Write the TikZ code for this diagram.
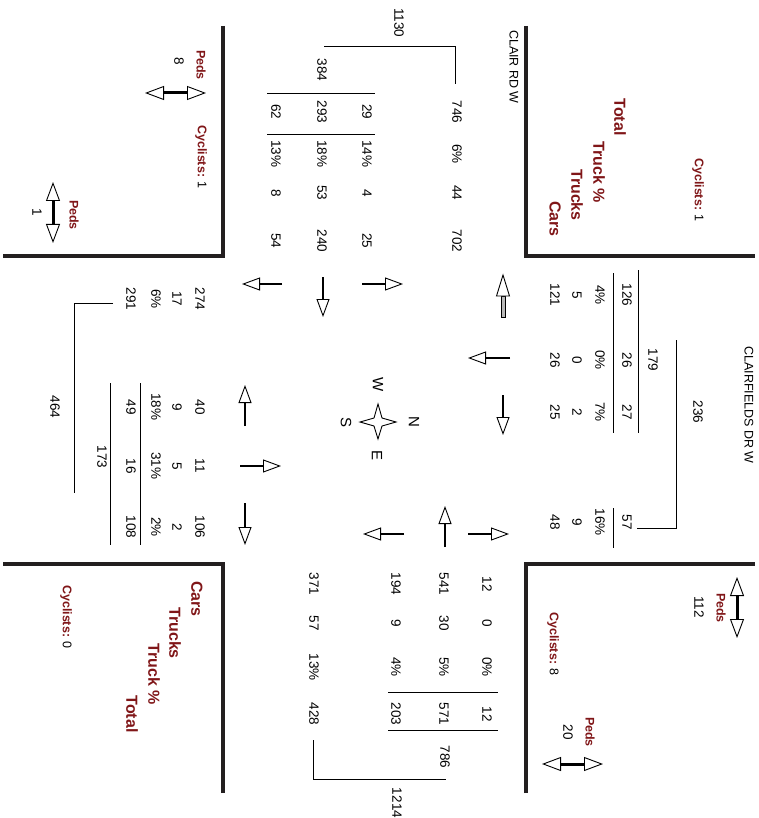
\documentclass[tikz,border=0pt]{standalone}
\usepackage{fontspec}
\setmainfont{Liberation Sans}
\usetikzlibrary{arrows.meta}
\definecolor{pedred}{RGB}{128,22,24}
\definecolor{curbgray}{RGB}{35,31,32}

\begin{document}
\begin{tikzpicture}[
    x=1pt, y=-1pt,
    num/.style={rotate=-90, inner sep=0pt, font=\fontsize{13.5}{15}\selectfont},
    street/.style={rotate=-90, inner sep=0pt, font=\fontsize{12.5}{15}\selectfont},
    head/.style={rotate=-90, inner sep=0pt, text=pedred, font=\fontsize{16}{18}\selectfont\bfseries},
    lbl/.style={rotate=-90, inner sep=0pt, text=pedred, font=\fontsize{12.5}{15}\selectfont\bfseries},
    curb/.style={draw=curbgray, line width=4pt, line join=miter},
    rule/.style={draw=black, line width=0.8pt},
    move/.style={line width=2pt, -{Triangle[length=18pt, width=13pt, fill=white, line width'=0.9pt]}},
    peds/.style={line width=3pt, {Triangle[length=19pt, width=14pt, fill=white, line width'=0.9pt]}-{Triangle[length=19pt, width=14pt, fill=white, line width'=0.9pt]}}
]
\useasboundingbox (0,0) rectangle (758,818);

% ====================
% Cordoli
% ====================
\draw[curb] (223,26) -- (223,256) -- (3,256);
\draw[curb] (526,26) -- (526,256) -- (755,256);
\draw[curb] (526,793) -- (526,564) -- (755,564);
\draw[curb] (223,793) -- (223,564) -- (3,564);

% Nomi delle strade
\node[street] (ST_W) at (514,67) {CLAIR RD W};
\node[street] (ST_N) at (749,405) {CLAIRFIELDS DR W};

% ====================
% Ramo W (alto)
% ====================
\node[num] (W_TOT) at (399,23) {1130};
\node[num] (W_IN) at (322,70) {384};
\node[num] (W_11) at (457,112) {746}; \node[num] (W_12) at (457,154) {6\%};
\node[num] (W_13) at (457,193) {44};  \node[num] (W_14) at (457,241) {702};
\node[num] (W_21) at (367,112) {29};  \node[num] (W_22) at (367,154) {14\%};
\node[num] (W_23) at (367,193) {4};   \node[num] (W_24) at (367,241) {25};
\node[num] (W_31) at (322,112) {293}; \node[num] (W_32) at (322,154) {18\%};
\node[num] (W_33) at (322,193) {53};  \node[num] (W_34) at (322,241) {240};
\node[num] (W_41) at (276,112) {62};  \node[num] (W_42) at (276,154) {13\%};
\node[num] (W_43) at (276,193) {8};   \node[num] (W_44) at (276,241) {54};
\draw[rule] (267,93) -- (375,93); \draw[rule] (267,134) -- (375,134);
\coordinate (P_W_A) at (324,46); \coordinate (P_W_B) at (455,46); \coordinate (P_W_C) at (455,84);
\draw[rule] (P_W_A) -- (P_W_B) -- (P_W_C);

% ====================
% Ramo N (destra)
% ====================
\node[num] (N_TOT) at (698,412) {236};
\node[num] (N_IN) at (653,360) {179};
\node[num] (N_11) at (627,295) {126}; \node[num] (N_12) at (600,295) {4\%};
\node[num] (N_13) at (577,295) {5};   \node[num] (N_14) at (555,295) {121};
\node[num] (N_21) at (627,360) {26};  \node[num] (N_22) at (600,360) {0\%};
\node[num] (N_23) at (577,360) {0};   \node[num] (N_24) at (555,360) {26};
\node[num] (N_31) at (627,412) {27};  \node[num] (N_32) at (600,412) {7\%};
\node[num] (N_33) at (577,412) {2};   \node[num] (N_34) at (555,412) {25};
\node[num] (N_41) at (627,522) {57};  \node[num] (N_42) at (600,522) {16\%};
\node[num] (N_43) at (577,522) {9};   \node[num] (N_44) at (555,522) {48};
\draw[rule] (638,270) -- (638,433); \draw[rule] (613,273) -- (613,433);
\draw[rule] (613,508) -- (613,548);
\coordinate (P_N_A) at (676,340); \coordinate (P_N_B) at (676,528); \coordinate (P_N_C) at (637,528);
\draw[rule] (P_N_A) -- (P_N_B) -- (P_N_C);

% ====================
% Ramo E (basso)
% ====================
\node[num] (E_TOT) at (397,803) {1214};
\node[num] (E_IN) at (445,757) {786};
\node[num] (E_11) at (487,584) {12};  \node[num] (E_12) at (487,623) {0};
\node[num] (E_13) at (487,667) {0\%}; \node[num] (E_14) at (487,714) {12};
\node[num] (E_21) at (444,584) {541}; \node[num] (E_22) at (444,623) {30};
\node[num] (E_23) at (444,667) {5\%}; \node[num] (E_24) at (444,714) {571};
\node[num] (E_31) at (396,584) {194}; \node[num] (E_32) at (396,623) {9};
\node[num] (E_33) at (396,667) {4\%}; \node[num] (E_34) at (396,714) {203};
\node[num] (E_41) at (314,584) {371}; \node[num] (E_42) at (314,623) {57};
\node[num] (E_43) at (314,667) {13\%}; \node[num] (E_44) at (314,714) {428};
\draw[rule] (388,692) -- (498,692); \draw[rule] (388,730) -- (498,730);
\coordinate (P_E_A) at (313,740); \coordinate (P_E_B) at (313,779); \coordinate (P_E_C) at (446,779);
\draw[rule] (P_E_A) -- (P_E_B) -- (P_E_C);

% ====================
% Ramo S (sinistra)
% ====================
\node[num] (S_TOT) at (55,407) {464};
\node[num] (S_IN) at (102,457) {173};
\node[num] (S_11) at (200,299) {274}; \node[num] (S_12) at (177,299) {17};
\node[num] (S_13) at (156,299) {6\%}; \node[num] (S_14) at (131,299) {291};
\node[num] (S_21) at (200,407) {40};  \node[num] (S_22) at (177,407) {9};
\node[num] (S_23) at (156,407) {18\%}; \node[num] (S_24) at (131,407) {49};
\node[num] (S_31) at (200,466) {11};  \node[num] (S_32) at (177,466) {5};
\node[num] (S_33) at (156,466) {31\%}; \node[num] (S_34) at (131,466) {16};
\node[num] (S_41) at (200,527) {106}; \node[num] (S_42) at (177,527) {2};
\node[num] (S_43) at (156,527) {2\%}; \node[num] (S_44) at (131,527) {108};
\draw[rule] (140,383) -- (140,545); \draw[rule] (110,383) -- (110,545);
\coordinate (P_S_A) at (113,303); \coordinate (P_S_B) at (74,303); \coordinate (P_S_C) at (74,493);
\draw[rule] (P_S_A) -- (P_S_B) -- (P_S_C);

% ====================
% Frecce di manovra
% ====================
% W
\draw[move] (282,284) -- (242,284);
\draw[move] (323,277) -- (323,317);
\draw[move] (362,284) -- (403,284);
% N
\draw[line width=0.9pt, fill=gray!55] (501,296) rectangle (505,317);
\draw[line width=0.9pt, fill=white] (503,275) -- (509.5,296) -- (496.5,296) -- cycle;
\draw[move] (510,358) -- (468,358);
\draw[move] (503,395) -- (503,435);
% S
\draw[move] (245,426) -- (245,385);
\draw[move] (240,466) -- (281,466);
\draw[move] (245,503) -- (245,545);
% E
\draw[move] (404,534) -- (363,534);
\draw[move] (445,547) -- (445,506);
\draw[move] (468,534) -- (509,534);

% Rosa dei venti
\draw[line width=0.9pt, fill=white] (396,422) -- (382,418) -- (378,404) -- (374,418)
      -- (360,422) -- (374,426) -- (378,439) -- (382,426) -- cycle;
\node[num, font=\fontsize{15}{17}\selectfont] (CMP_N) at (414,422) {N};
\node[num, font=\fontsize{15}{17}\selectfont] (CMP_S) at (346,422) {S};
\node[num, font=\fontsize{15}{17}\selectfont] (CMP_W) at (378,385) {W};
\node[num, font=\fontsize{15}{17}\selectfont] (CMP_E) at (377,455) {E};

% ====================
% Legende e pedoni
% ====================
\node[head] (HD_T1) at (620,117) {Total};
\node[head] (HD_T2) at (599,172) {Truck \%};
\node[head] (HD_T3) at (577,195) {Trucks};
\node[head] (HD_T4) at (555,219) {Cars};
\node[head] (HD_B1) at (197,599) {Cars};
\node[head] (HD_B2) at (175,633) {Trucks};
\node[head] (HD_B3) at (154,674) {Truck \%};
\node[head] (HD_B4) at (132,714) {Total};

\node[lbl] (CYC_NW) at (698,190) {Cyclists: {\color{black}\mdseries 1}};
\node[lbl] (CYC_SW) at (201,157) {Cyclists: {\color{black}\mdseries 1}};
\node[lbl] (CYC_NE) at (553,644) {Cyclists: {\color{black}\mdseries 8}};
\node[lbl] (CYC_SE) at (66,617) {Cyclists: {\color{black}\mdseries 0}};

% Pedoni lato W
\draw[peds] (145,93) -- (206,93);
\node[lbl] (PED_W) at (201,65) {Peds};
\node[num] (PED_W_N) at (179,61) {8};
% Pedoni lato S
\draw[peds] (53,182) -- (53,243);
\node[lbl] (PED_S) at (74,215) {Peds};
\node[num] (PED_S_N) at (37,212) {1};
% Pedoni lato N
\draw[peds] (737,577) -- (737,638);
\node[lbl] (PED_N) at (721,608) {Peds};
\node[num] (PED_N_N) at (699,607) {112};
% Pedoni lato E
\draw[peds] (542,764) -- (603,764);
\node[lbl] (PED_E) at (590,732) {Peds};
\node[num] (PED_E_N) at (568,732) {20};

\end{tikzpicture}
\end{document}
